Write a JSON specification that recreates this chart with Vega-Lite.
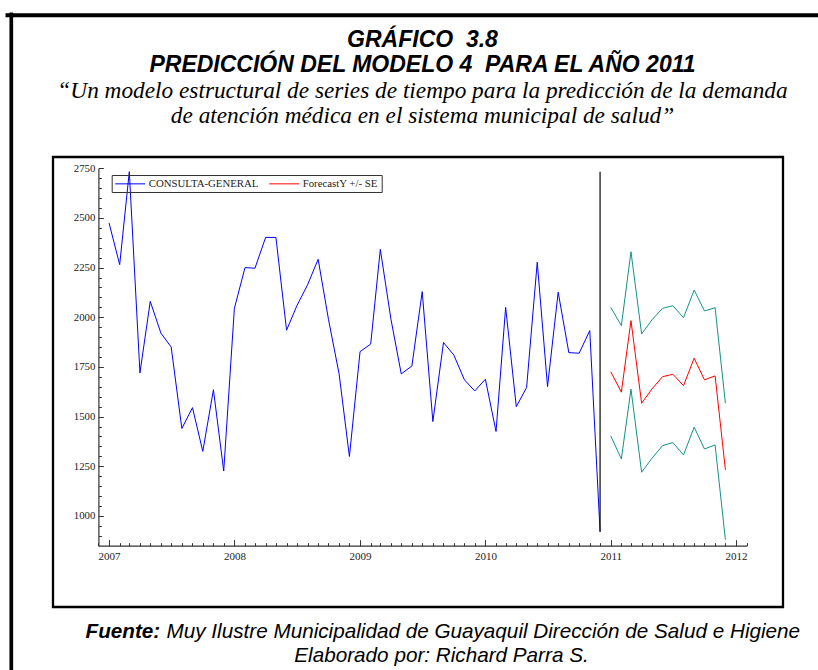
{
  "$schema": "https://vega.github.io/schema/vega-lite/v6.json",
  "width": 730,
  "height": 450,
  "autosize": {"type": "none"},
  "padding": {"left": 53, "top": 157, "right": 35, "bottom": 63},
  "background": "white",
  "config": {
    "view": {"stroke": "black", "strokeWidth": 2.3},
    "axis": {"grid": false}
  },
  "title": {
    "text": ["GRÁFICO\u00a0 3.8", "PREDICCIÓN DEL MODELO 4\u00a0 PARA EL AÑO 2011"],
    "subtitle": ["“Un modelo estructural de series de tiempo para la predicción de la demanda", "de atención médica en el sistema municipal de salud”"],
    "anchor": "middle",
    "frame": "group",
    "font": "Liberation Sans",
    "fontSize": 23,
    "fontStyle": "italic",
    "fontWeight": "bold",
    "lineHeight": 25,
    "color": "black",
    "subtitleFont": "Liberation Serif",
    "subtitleFontSize": 23.3,
    "subtitleFontStyle": "italic",
    "subtitleLineHeight": 25,
    "subtitleColor": "black",
    "subtitlePadding": 3,
    "offset": -118,
    "dx": 4.5
  },
  "datasets": {
    "historico": [
      {"fecha": "2007/01/01", "consultas": 2475, "serie": "CONSULTA-GENERAL"},
      {"fecha": "2007/02/01", "consultas": 2265, "serie": "CONSULTA-GENERAL"},
      {"fecha": "2007/03/01", "consultas": 2733, "serie": "CONSULTA-GENERAL"},
      {"fecha": "2007/04/01", "consultas": 1720, "serie": "CONSULTA-GENERAL"},
      {"fecha": "2007/05/01", "consultas": 2080, "serie": "CONSULTA-GENERAL"},
      {"fecha": "2007/06/01", "consultas": 1920, "serie": "CONSULTA-GENERAL"},
      {"fecha": "2007/07/01", "consultas": 1850, "serie": "CONSULTA-GENERAL"},
      {"fecha": "2007/08/01", "consultas": 1440, "serie": "CONSULTA-GENERAL"},
      {"fecha": "2007/09/01", "consultas": 1545, "serie": "CONSULTA-GENERAL"},
      {"fecha": "2007/10/01", "consultas": 1325, "serie": "CONSULTA-GENERAL"},
      {"fecha": "2007/11/01", "consultas": 1635, "serie": "CONSULTA-GENERAL"},
      {"fecha": "2007/12/01", "consultas": 1226, "serie": "CONSULTA-GENERAL"},
      {"fecha": "2008/01/01", "consultas": 2045, "serie": "CONSULTA-GENERAL"},
      {"fecha": "2008/02/01", "consultas": 2250, "serie": "CONSULTA-GENERAL"},
      {"fecha": "2008/03/01", "consultas": 2247, "serie": "CONSULTA-GENERAL"},
      {"fecha": "2008/04/01", "consultas": 2402, "serie": "CONSULTA-GENERAL"},
      {"fecha": "2008/05/01", "consultas": 2402, "serie": "CONSULTA-GENERAL"},
      {"fecha": "2008/06/01", "consultas": 1935, "serie": "CONSULTA-GENERAL"},
      {"fecha": "2008/07/01", "consultas": 2058, "serie": "CONSULTA-GENERAL"},
      {"fecha": "2008/08/01", "consultas": 2163, "serie": "CONSULTA-GENERAL"},
      {"fecha": "2008/09/01", "consultas": 2292, "serie": "CONSULTA-GENERAL"},
      {"fecha": "2008/10/01", "consultas": 1990, "serie": "CONSULTA-GENERAL"},
      {"fecha": "2008/11/01", "consultas": 1715, "serie": "CONSULTA-GENERAL"},
      {"fecha": "2008/12/01", "consultas": 1299, "serie": "CONSULTA-GENERAL"},
      {"fecha": "2009/01/01", "consultas": 1827, "serie": "CONSULTA-GENERAL"},
      {"fecha": "2009/02/01", "consultas": 1865, "serie": "CONSULTA-GENERAL"},
      {"fecha": "2009/03/01", "consultas": 2342, "serie": "CONSULTA-GENERAL"},
      {"fecha": "2009/04/01", "consultas": 1990, "serie": "CONSULTA-GENERAL"},
      {"fecha": "2009/05/01", "consultas": 1715, "serie": "CONSULTA-GENERAL"},
      {"fecha": "2009/06/01", "consultas": 1755, "serie": "CONSULTA-GENERAL"},
      {"fecha": "2009/07/01", "consultas": 2129, "serie": "CONSULTA-GENERAL"},
      {"fecha": "2009/08/01", "consultas": 1475, "serie": "CONSULTA-GENERAL"},
      {"fecha": "2009/09/01", "consultas": 1873, "serie": "CONSULTA-GENERAL"},
      {"fecha": "2009/10/01", "consultas": 1810, "serie": "CONSULTA-GENERAL"},
      {"fecha": "2009/11/01", "consultas": 1685, "serie": "CONSULTA-GENERAL"},
      {"fecha": "2009/12/01", "consultas": 1629, "serie": "CONSULTA-GENERAL"},
      {"fecha": "2010/01/01", "consultas": 1688, "serie": "CONSULTA-GENERAL"},
      {"fecha": "2010/02/01", "consultas": 1425, "serie": "CONSULTA-GENERAL"},
      {"fecha": "2010/03/01", "consultas": 2050, "serie": "CONSULTA-GENERAL"},
      {"fecha": "2010/04/01", "consultas": 1550, "serie": "CONSULTA-GENERAL"},
      {"fecha": "2010/05/01", "consultas": 1646, "serie": "CONSULTA-GENERAL"},
      {"fecha": "2010/06/01", "consultas": 2277, "serie": "CONSULTA-GENERAL"},
      {"fecha": "2010/07/01", "consultas": 1651, "serie": "CONSULTA-GENERAL"},
      {"fecha": "2010/08/01", "consultas": 2126, "serie": "CONSULTA-GENERAL"},
      {"fecha": "2010/09/01", "consultas": 1822, "serie": "CONSULTA-GENERAL"},
      {"fecha": "2010/10/01", "consultas": 1819, "serie": "CONSULTA-GENERAL"},
      {"fecha": "2010/11/01", "consultas": 1933, "serie": "CONSULTA-GENERAL"},
      {"fecha": "2010/12/01", "consultas": 920, "serie": "CONSULTA-GENERAL"}
    ],
    "prediccion": [
      {"fecha": "2011/01/01", "prediccion": 1726, "superior": 2050, "inferior": 1403},
      {"fecha": "2011/02/01", "prediccion": 1623, "superior": 1958, "inferior": 1287},
      {"fecha": "2011/03/01", "prediccion": 1983, "superior": 2330, "inferior": 1638},
      {"fecha": "2011/04/01", "prediccion": 1567, "superior": 1916, "inferior": 1220},
      {"fecha": "2011/05/01", "prediccion": 1639, "superior": 1987, "inferior": 1290},
      {"fecha": "2011/06/01", "prediccion": 1701, "superior": 2045, "inferior": 1354},
      {"fecha": "2011/07/01", "prediccion": 1713, "superior": 2058, "inferior": 1369},
      {"fecha": "2011/08/01", "prediccion": 1656, "superior": 1998, "inferior": 1307},
      {"fecha": "2011/09/01", "prediccion": 1794, "superior": 2137, "inferior": 1447},
      {"fecha": "2011/10/01", "prediccion": 1685, "superior": 2032, "inferior": 1337},
      {"fecha": "2011/11/01", "prediccion": 1705, "superior": 2048, "inferior": 1357},
      {"fecha": "2011/12/01", "prediccion": 1232, "superior": 1567, "inferior": 880}
    ]
  },
  "resolve": {"scale": {"x": "independent", "y": "independent"}},
  "layer": [
    {
      "data": {"name": "prediccion"},
      "transform": [{"fold": ["superior", "inferior"], "as": ["banda", "valor"]}],
      "mark": {"type": "line", "color": "#14918a", "strokeWidth": 1},
      "encoding": {
        "x": {
          "field": "fecha", "type": "temporal",
          "scale": {"domain": [{"year": 2006, "month": 12, "date": 1}, {"year": 2012, "month": 2, "date": 1}], "range": [45.4, 693.7], "nice": false},
          "axis": {
            "orient": "bottom", "offset": -61.3, "ticks": false, "labels": false, "domain": false, "grid": false,
            "title": "Muy Ilustre Municipalidad de Guayaquil Dirección de Salud e Higiene",
            "titleX": 113, "titleY": 92, "titleAlign": "left", "titleAnchor": "start", "titleBaseline": "alphabetic",
            "titleFont": "Liberation Sans", "titleFontSize": 20.7, "titleFontStyle": "italic", "titleFontWeight": "normal", "titleColor": "black"
          }
        },
        "y": {
          "field": "valor", "type": "quantitative",
          "scale": {"domain": [850, 2750], "range": [388.7, 11.3], "zero": false, "nice": false},
          "axis": null
        },
        "detail": {"field": "banda"}
      }
    },
    {
      "data": {"name": "prediccion"},
      "mark": {"type": "line", "strokeWidth": 1},
      "encoding": {
        "x": {
          "field": "fecha", "type": "temporal",
          "scale": {"domain": [{"year": 2006, "month": 12, "date": 1}, {"year": 2012, "month": 2, "date": 1}], "range": [45.4, 693.7], "nice": false},
          "axis": {
            "orient": "bottom", "offset": -61.3, "tickCount": {"interval": "month", "step": 1},
            "labels": false, "domain": false, "grid": false,
            "tickSize": -3, "tickColor": "#333", "tickWidth": 1,
            "title": "Fuente:",
            "titleX": 32, "titleY": 92, "titleAlign": "left", "titleAnchor": "start", "titleBaseline": "alphabetic",
            "titleFont": "Liberation Sans", "titleFontSize": 20.7, "titleFontStyle": "italic", "titleFontWeight": "bold", "titleColor": "black"
          }
        },
        "y": {
          "field": "prediccion", "type": "quantitative",
          "scale": {"domain": [850, 2750], "range": [388.7, 11.3], "zero": false, "nice": false},
          "axis": {
            "orient": "left", "offset": -45.4,
            "values": [900, 950, 1000, 1050, 1100, 1150, 1200, 1250, 1300, 1350, 1400, 1450, 1500, 1550, 1600, 1650, 1700, 1750, 1800, 1850, 1900, 1950, 2000, 2050, 2100, 2150, 2200, 2250, 2300, 2350, 2400, 2450, 2500, 2550, 2600, 2650, 2700, 2750],
            "labels": false, "domain": false, "grid": false, "title": null,
            "tickSize": -3, "tickColor": "#333", "tickWidth": 1
          }
        },
        "color": {"datum": "ForecastY +/- SE", "type": "nominal"}
      }
    },
    {
      "data": {"name": "historico"},
      "mark": {"type": "line", "strokeWidth": 1},
      "encoding": {
        "x": {
          "field": "fecha", "type": "temporal",
          "scale": {"domain": [{"year": 2006, "month": 12, "date": 1}, {"year": 2012, "month": 2, "date": 1}], "range": [45.4, 693.7], "nice": false},
          "axis": {
            "orient": "bottom", "offset": -61.3,
            "values": [{"year": 2007, "month": 1, "date": 1}, {"year": 2008, "month": 1, "date": 1}, {"year": 2009, "month": 1, "date": 1}, {"year": 2010, "month": 1, "date": 1}, {"year": 2011, "month": 1, "date": 1}, {"year": 2012, "month": 1, "date": 1}],
            "format": "%Y", "formatType": "time",
            "tickSize": -6, "tickColor": "#333", "tickWidth": 1,
            "domainColor": "#333", "domainWidth": 1.2,
            "labelFont": "Liberation Serif", "labelFontSize": 11, "labelColor": "#222",
            "labelPadding": 10.6, "labelAngle": 0, "labelFlush": false, "labelOverlap": false,
            "grid": false,
            "title": "Elaborado por: Richard Parra S.",
            "titleX": 388, "titleY": 116, "titleAlign": "center", "titleBaseline": "alphabetic",
            "titleFont": "Liberation Sans", "titleFontSize": 20.7, "titleFontStyle": "italic", "titleFontWeight": "normal", "titleColor": "black"
          }
        },
        "y": {
          "field": "consultas", "type": "quantitative",
          "scale": {"domain": [850, 2750], "range": [388.7, 11.3], "zero": false, "nice": false},
          "axis": {
            "orient": "left", "offset": -45.4,
            "values": [1000, 1250, 1500, 1750, 2000, 2250, 2500, 2750],
            "format": "d",
            "tickSize": -5, "tickColor": "#333", "tickWidth": 1,
            "domainColor": "#333", "domainWidth": 1.2,
            "labelFont": "Liberation Serif", "labelFontSize": 10.8, "labelColor": "#222",
            "labelPadding": 8.5, "labelFlush": false, "labelOverlap": false,
            "grid": false, "title": null
          }
        },
        "color": {
          "field": "serie", "type": "nominal",
          "scale": {"domain": ["CONSULTA-GENERAL", "ForecastY +/- SE"], "range": ["#0000ff", "#ff0000"]},
          "legend": {
            "title": null, "orient": "none", "legendX": 58.7, "legendY": 18,
            "direction": "horizontal",
            "symbolType": "M-3,0H3", "symbolSize": 100, "symbolStrokeWidth": 1, "symbolOffset": 10,
            "labelOffset": 13, "columnPadding": 8, "padding": 3,
            "labelFont": "Liberation Serif", "labelFontSize": 10.8, "labelColor": "#222",
            "strokeColor": "#333"
          }
        }
      }
    },
    {
      "data": {"name": "historico"},
      "mark": {"type": "rule", "color": "#1a1a1a", "strokeWidth": 1.3},
      "encoding": {
        "x": {
          "aggregate": "max", "field": "fecha", "type": "temporal",
          "scale": {"domain": [{"year": 2006, "month": 12, "date": 1}, {"year": 2012, "month": 2, "date": 1}], "range": [45.4, 693.7], "nice": false},
          "axis": null
        },
        "y": {
          "aggregate": "min", "field": "consultas", "type": "quantitative",
          "scale": {"domain": [850, 2750], "range": [388.7, 11.3], "zero": false, "nice": false},
          "axis": null
        },
        "y2": {"aggregate": "max", "field": "consultas"}
      }
    },
    {
      "data": {"name": "historico"},
      "mark": {"type": "point", "opacity": 0},
      "encoding": {
        "x": {
          "field": "fecha", "type": "temporal",
          "scale": {"range": [-48, 830], "nice": false},
          "axis": {"orient": "top", "offset": 142.3, "ticks": false, "labels": false, "grid": false, "title": null, "domainColor": "black", "domainWidth": 4}
        },
        "y": {
          "field": "consultas", "type": "quantitative",
          "scale": {"range": [540, -145], "zero": false, "nice": false},
          "axis": {"orient": "left", "offset": 42.2, "ticks": false, "labels": false, "grid": false, "title": null, "domainColor": "black", "domainWidth": 3.7}
        }
      }
    }
  ]
}
